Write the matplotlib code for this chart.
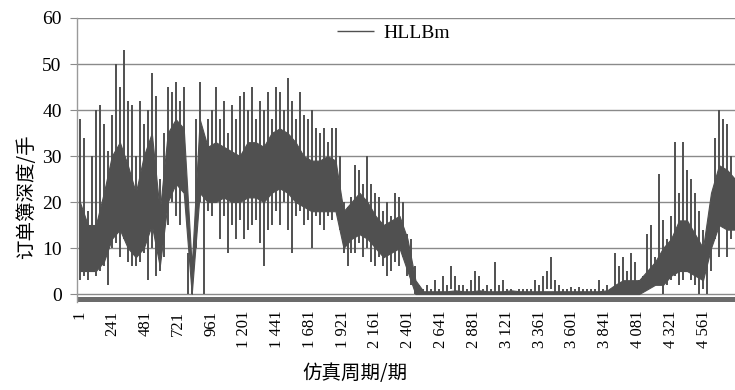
import numpy as np
import matplotlib
matplotlib.use("Agg")
import matplotlib.pyplot as plt

# ---- data ----
# extreme excursions (low / high) of the series in consecutive short windows
depth_low = [3, 4, 3, 5, 4, 5, 6, 2, 10, 11, 8, 12, 7, 6, 6, 7, 9, 3, 10, 4,
             5, 8, 15, 20, 17, 15, 22, 0, 0, 10, 20, 0, 18, 17, 20, 12, 17, 9, 15, 12,
             16, 12, 14, 15, 16, 11, 6, 14, 15, 18, 15, 20, 14, 9, 17, 18, 15, 16, 10, 17,
             15, 14, 17, 16, 18, 14, 9, 6, 9, 9, 11, 8, 10, 7, 6, 8, 6, 4, 5, 7,
             6, 8, 4, 2, 0, 0, 0, 0, 0, 0, 0, 0, 0, 1, 0, 0, 0, 0, 0, 0,
             0, 0, 0, 0, 0, 0, 0, 0, 0, 0, 0, 0, 0, 0, 0, 0, 0, 1, 1, 0,
             0, 0, 0, 0, 0, 0, 0, 0, 0, 0, 0, 0, 0, 0, 1, 1, 0, 1, 0, 0,
             0, 1, 2, 2, 2, 3, 0, 2, 3, 4, 2, 3, 5, 3, 2, 0, 1, 0, 5, 12,
             8, 15, 8, 12]
depth_high = [38, 34, 18, 30, 40, 41, 37, 31, 39, 50, 45, 53, 42, 41, 30, 42, 37, 40, 48, 43,
              25, 35, 45, 44, 46, 42, 45, 9, 8, 38, 46, 30, 38, 40, 45, 38, 42, 35, 41, 38,
              43, 44, 40, 45, 38, 42, 40, 44, 38, 45, 44, 40, 47, 42, 38, 44, 39, 38, 40, 36,
              35, 36, 33, 36, 36, 30, 20, 19, 21, 28, 27, 24, 30, 24, 22, 21, 18, 20, 17, 22,
              21, 20, 13, 12, 6, 2, 1, 2, 1, 3, 1, 4, 2, 6, 4, 2, 2, 1, 3, 5,
              4, 1, 2, 1, 7, 2, 3, 1, 1, 0.5, 1, 1, 1, 1, 3, 2, 4, 5, 8, 3,
              2, 1, 1, 1.5, 1, 1.5, 1, 1, 1, 1, 3, 1, 2, 1, 9, 6, 8, 5, 9, 7,
              3, 4, 13, 15, 8, 26, 16, 12, 17, 33, 22, 33, 27, 25, 22, 18, 14, 12, 18, 34,
              40, 38, 37, 30]
# dense core of the series (where most values lie) in wider windows
core_low = [5, 5, 5, 7, 12, 14, 10, 8, 10, 15, 6, 20, 24, 22, 0, 22, 20, 20, 21, 20,
            20, 21, 21, 20, 22, 23, 22, 20, 19, 18, 18, 18, 18, 10, 12, 13, 12, 10, 8, 9,
            10, 5, 0, 0, 0, 0, 0, 0, 0, 0, 0, 0, 0, 0, 0, 0, 0, 0, 0, 0,
            0, 0, 0, 0, 0, 0, 0, 0, 0, 0, 0, 1, 2, 2, 4, 5, 5, 4, 3, 10,
            15, 14, 14]
core_high = [20, 15, 15, 22, 30, 33, 28, 22, 30, 35, 18, 35, 38, 36, 6, 38, 32, 33, 32, 31,
             30, 33, 33, 32, 35, 36, 35, 33, 30, 29, 29, 30, 29, 18, 20, 22, 20, 17, 15, 16,
             17, 12, 3, 0.6, 0.6, 0.6, 0.6, 0.8, 0.6, 0.6, 0.8, 0.6, 0.6, 0.6, 0.8, 0.6, 0.6, 0.6, 0.6, 0.6,
             0.6, 0.6, 0.6, 0.6, 0.6, 0.6, 0.8, 2, 3, 3, 3, 5, 7, 10, 12, 16, 16, 13, 10, 22,
             28, 27, 25]

tick_periods = [1, 241, 481, 721, 961, 1201, 1441, 1681, 1921, 2161, 2401,
                2641, 2881, 3121, 3361, 3601, 3841, 4081, 4321, 4561]
tick_labels = ["1", "241", "481", "721", "961", "1 201", "1 441", "1 681", "1 921",
               "2 161", "2 401", "2 641", "2 881", "3 121", "3 361", "3 601",
               "3 841", "4 081", "4 321", "4 561"]
y_ticks = [0, 10, 20, 30, 40, 50, 60]
series_name = "HLLBm"

# window widths in simulation periods
spike_step = 29.2
core_step = 58.4
spike_periods = 1 + np.arange(len(depth_low)) * spike_step
core_periods = 1 + np.arange(len(core_low)) * core_step

serif = ["Liberation Serif", "DejaVu Serif"]
cjk = ["Noto Sans CJK SC", "DejaVu Sans"]
line_color = "#505050"

fig = plt.figure(figsize=(7.35, 3.9), dpi=100)
ax = fig.add_axes([77 / 735, 1 - 302.3 / 390, (735 - 77) / 735, (302.3 - 18) / 390])

ax.set_ylim(-1.8, 60)
ax.set_xlim(-20, 4790)

for yv in y_ticks:
    ax.axhline(yv, color="#8a8a8a", lw=1.0, zorder=1)
ax.axhspan(-1.8, -0.55, color="#6b6b6b", lw=0, zorder=2)

ax.fill_between(core_periods, core_low, core_high, color=line_color, lw=0.8,
                edgecolor=line_color, zorder=3)
ax.vlines(spike_periods, depth_low, depth_high, color=line_color, lw=1.4, zorder=3,
          label=series_name)

ax.set_yticks(y_ticks)
ax.set_yticklabels([str(v) for v in y_ticks], fontfamily=serif, fontsize=14)
ax.tick_params(axis="y", direction="out", length=5, color="#8a8a8a", pad=6)

ax.set_xticks(tick_periods)
ax.set_xticklabels(tick_labels, rotation=90, fontfamily=serif, fontsize=12)
ax.tick_params(axis="x", length=0, pad=6)

for s in ["top", "right", "bottom"]:
    ax.spines[s].set_visible(False)
ax.spines["left"].set_color("#9a9a9a")
ax.spines["left"].set_linewidth(1.0)

leg = ax.legend(loc="center left", bbox_to_anchor=(0.395, 0.947), frameon=False,
                prop={"family": serif, "size": 14}, handlelength=1.9,
                handletextpad=0.5, borderpad=0, borderaxespad=0)
for h in leg.legend_handles:
    h.set_linewidth(1.0)

fig.text(27 / 735, 1 - 197 / 390, "订单簿深度/手", rotation=90, ha="center", va="center",
         fontsize=14, family=cjk)
fig.text(355 / 735, 1 - 374 / 390, "仿真周期/期", ha="center", va="center",
         fontsize=14, family=cjk)

fig.savefig("out.png", dpi=100)
